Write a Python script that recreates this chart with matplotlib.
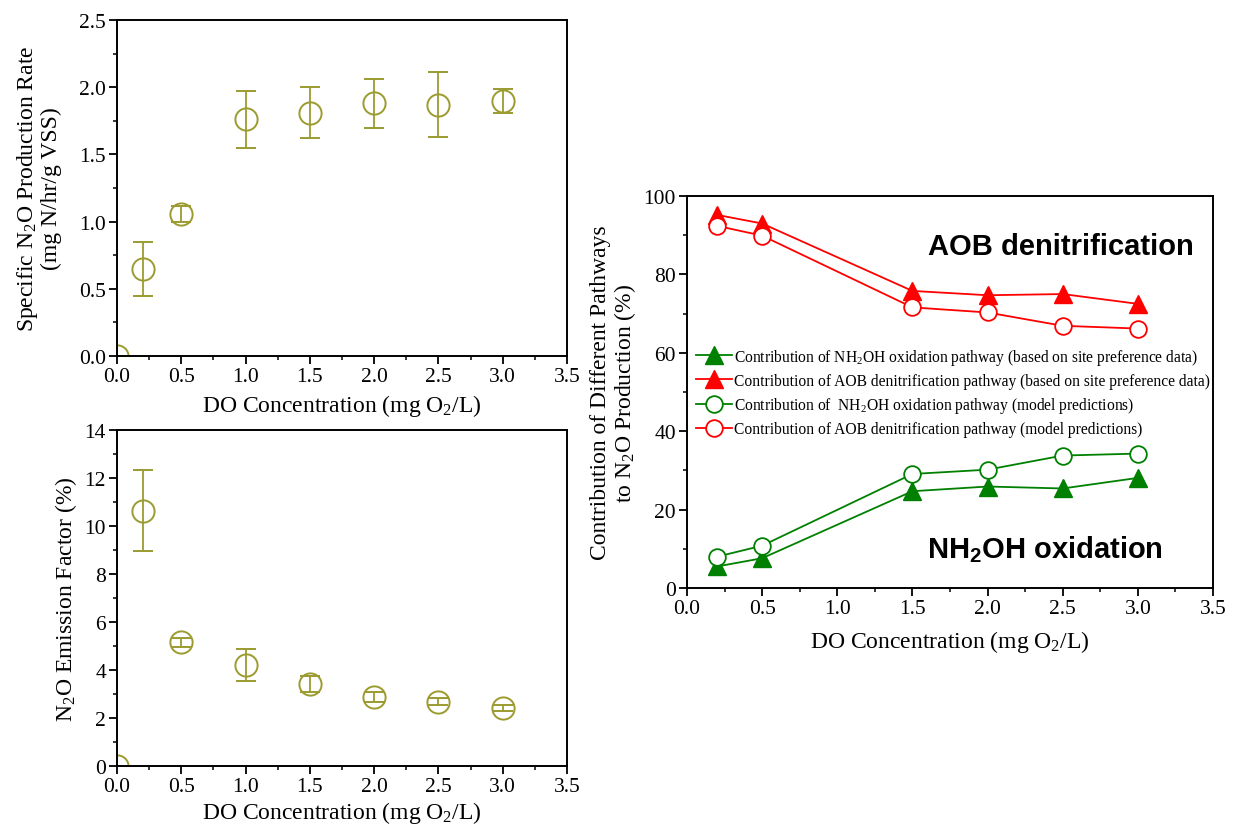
import matplotlib.pyplot as plt
from matplotlib.ticker import MultipleLocator

# Datos de OD (mg O2/L)
do_izq = [0.0, 0.2, 0.5, 1.0, 1.5, 2.0, 2.5, 3.0]
tasa_n2o = [0.0, 0.65, 1.06, 1.76, 1.81, 1.88, 1.87, 1.90]
err_tasa = [0.0, 0.20, 0.06, 0.21, 0.19, 0.18, 0.24, 0.09]
factor_emision = [0.0, 10.64, 5.15, 4.21, 3.40, 2.88, 2.68, 2.40]
err_factor = [0.0, 1.70, 0.20, 0.68, 0.33, 0.20, 0.15, 0.12]

do_der = [0.2, 0.5, 1.5, 2.0, 2.5, 3.0]
nh2oh_sp = [5.5, 7.6, 24.7, 25.9, 25.4, 28.1]
aob_sp = [95.2, 93.0, 75.8, 74.7, 75.0, 72.5]
nh2oh_modelo = [8.0, 10.8, 29.1, 30.2, 33.8, 34.3]
aob_modelo = [92.4, 89.9, 71.6, 70.3, 66.9, 66.2]

plt.rcParams['font.family'] = ['Liberation Serif', 'DejaVu Serif']
plt.rcParams['font.size'] = 17
plt.rcParams['xtick.labelsize'] = 15.5
plt.rcParams['ytick.labelsize'] = 15.5
olivo = '#9b9b30'
x_label = 'DO Concentration (mg O$\\mathregular{_2}$/L)'


def estilo_ejes(ax, ymax, ymayor, ymenor):
    ax.set_xlim(0, 3.5)
    ax.set_ylim(0, ymax)
    ax.xaxis.set_major_locator(MultipleLocator(0.5))
    ax.xaxis.set_minor_locator(MultipleLocator(0.25))
    ax.yaxis.set_major_locator(MultipleLocator(ymayor))
    ax.yaxis.set_minor_locator(MultipleLocator(ymenor))
    ax.xaxis.set_major_formatter(lambda v, p: f'{v:.1f}')
    ax.tick_params(which='major', direction='out', length=6, width=1.3, pad=2)
    ax.tick_params(which='minor', direction='out', length=3, width=1.1)
    for s in ax.spines.values():
        s.set_linewidth(1.4)


fig = plt.figure(figsize=(12.38, 8.28), dpi=100)

# Tasa especifica de produccion de N2O
ax1 = fig.add_axes([0.0945, 0.5688, 0.3635, 0.4058])
ax1.errorbar(do_izq, tasa_n2o, yerr=err_tasa, fmt='o', ms=16, mfc='none', mec=olivo,
             mew=1.4, ecolor=olivo, elinewidth=1.3, capsize=7, capthick=1.3)
estilo_ejes(ax1, 2.5, 0.5, 0.25)
ax1.yaxis.set_major_formatter(lambda v, p: f'{v:.1f}')
ax1.set_xlabel(x_label, labelpad=4)
ax1.set_ylabel('Specific N$\\mathregular{_2}$O Production Rate\n(mg N/hr/g VSS)', linespacing=1.05,
               labelpad=12)

# Factor de emision de N2O
ax2 = fig.add_axes([0.0945, 0.0737, 0.3635, 0.4058])
ax2.errorbar(do_izq, factor_emision, yerr=err_factor, fmt='o', ms=16, mfc='none', mec=olivo,
             mew=1.4, ecolor=olivo, elinewidth=1.3, capsize=7, capthick=1.3)
estilo_ejes(ax2, 14, 2, 1)
ax2.set_xlabel(x_label, labelpad=2)
ax2.set_ylabel('N$\\mathregular{_2}$O Emission Factor (%)')

# Contribucion de cada ruta
ax3 = fig.add_axes([0.5549, 0.2886, 0.4249, 0.4734])
ax3.plot(do_der, nh2oh_sp, color='green', lw=1.3, marker='^', ms=13, mfc='green', mec='green',
         label='Contribution of NH$\\mathregular{_2}$OH oxidation pathway (based on site preference data)')
ax3.plot(do_der, aob_sp, color='red', lw=1.3, marker='^', ms=13, mfc='red', mec='red',
         label='Contribution of AOB denitrification pathway (based on site preference data)')
ax3.plot(do_der, nh2oh_modelo, color='green', lw=1.3, marker='o', ms=12, mfc='white', mec='green', mew=1.3,
         label='Contribution of  NH$\\mathregular{_2}$OH oxidation pathway (model predictions)')
ax3.plot(do_der, aob_modelo, color='red', lw=1.3, marker='o', ms=12, mfc='white', mec='red', mew=1.3,
         label='Contribution of AOB denitrification pathway (model predictions)')
estilo_ejes(ax3, 100, 20, 10)
ax3.set_xlabel(x_label, labelpad=7)
ax3.set_ylabel('Contribution of Different Pathways\nto N$\\mathregular{_2}$O Production (%)', linespacing=1.05)
ax3.legend(loc='center left', bbox_to_anchor=(0.005, 0.50), frameon=False, fontsize=11.2,
           handlelength=2.35, handletextpad=0.1, labelspacing=0.4, borderaxespad=0)
ax3.text(0.711, 0.872, 'AOB denitrification', transform=ax3.transAxes, ha='center', va='center',
         fontsize=21, fontweight='bold', family='Liberation Sans')
ax3.text(0.681, 0.10, 'NH$\\mathregular{_2}$OH oxidation', transform=ax3.transAxes, ha='center',
         va='center', fontsize=21, fontweight='bold', family='Liberation Sans')

plt.savefig('out.png', dpi=100)
